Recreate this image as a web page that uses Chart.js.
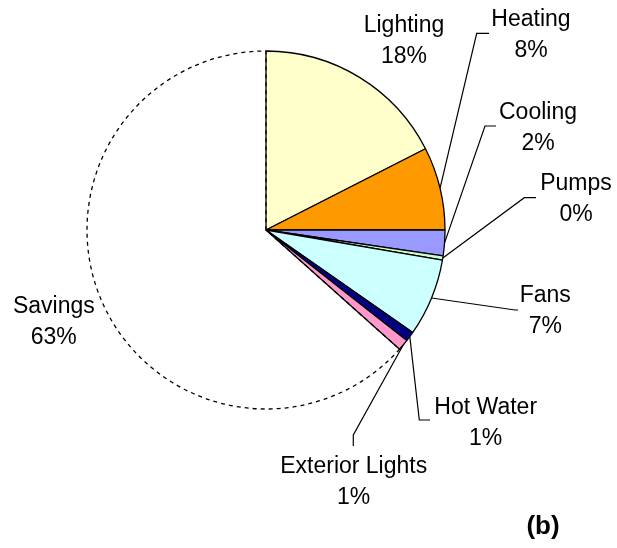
<!DOCTYPE html>
<html>
<head>
<meta charset="utf-8">
<title>End use breakdown</title>
<script src="https://cdn.jsdelivr.net/npm/chart.js@4.4.1/dist/chart.umd.min.js"></script>
<style>
  html, body { margin: 0; padding: 0; background: #fff; }
  #pie { display: block; }
</style>
</head>
<body>
<canvas id="pie" width="617" height="548"></canvas>
<script>
// end uses, clockwise from 12 o'clock, as percent of the baseline energy use
const categories = ["Lighting", "Heating", "Cooling", "Pumps", "Fans", "Hot Water", "Exterior Lights", "Savings"];
const shares = [17.5, 7.5, 2.3, 0.4, 7.0, 0.9, 1.0, 63.4];
const sliceColors = ["#ffffcc", "#ff9900", "#9999ff", "#ccffcc", "#ccffff", "#000080", "#ff99cc", "rgba(255,255,255,0)"];

const SAVINGS = categories.indexOf("Savings");
const FONT = "'Liberation Sans', Arial, Helvetica, sans-serif";
const LINE_GAP = 31;

// label block position (centre x, first baseline y) and leader bend:
// leader = [elbowX, elbowY, endX, endY], drawn out from the slice edge
const labelPlacement = {
  "Lighting":        { x: 404, y: 31.7 },
  "Heating":         { x: 531, y: 26, leader: [476.7, 33.3, 489, 33.3] },
  "Cooling":         { x: 538, y: 119, leader: [485, 126, 496, 126] },
  "Pumps":           { x: 576, y: 190, leader: [524.3, 197.7, 536, 197.7] },
  "Fans":            { x: 545.3, y: 301.7, leader: [515, 310, 518, 310] },
  "Hot Water":       { x: 485.7, y: 414, leader: [419.3, 420, 430, 420] },
  "Exterior Lights": { x: 353.7, y: 473.3, leader: [353.3, 435, 353.3, 446] },
  "Savings":         { x: 53.8, y: 313.3 }
};

const sliceLabels = {
  id: "sliceLabels",
  afterDraw(chart) {
    const ctx = chart.ctx;
    const meta = chart.getDatasetMeta(0);
    const values = chart.data.datasets[0].data;

    ctx.save();
    ctx.strokeStyle = "#000";
    ctx.lineWidth = 1.2;
    ctx.fillStyle = "#000";
    ctx.font = "23px " + FONT;
    ctx.textAlign = "center";
    ctx.textBaseline = "alphabetic";

    meta.data.forEach((arc, i) => {
      const name = chart.data.labels[i];
      const place = labelPlacement[name];
      if (!place) return;

      if (place.leader) {
        const { x, y, startAngle, endAngle, outerRadius } =
          arc.getProps(["x", "y", "startAngle", "endAngle", "outerRadius"], true);
        const mid = (startAngle + endAngle) / 2;
        const [ex, ey, tx, ty] = place.leader;
        ctx.beginPath();
        ctx.moveTo(x + Math.cos(mid) * outerRadius, y + Math.sin(mid) * outerRadius);
        ctx.lineTo(ex, ey);
        ctx.lineTo(tx, ty);
        ctx.stroke();
      }

      ctx.fillText(name, place.x, place.y);
      ctx.fillText(Math.round(values[i]) + "%", place.x, place.y + LINE_GAP);
    });

    // panel tag
    ctx.font = "bold 26px " + FONT;
    ctx.fillText("(b)", 543, 534);
    ctx.restore();
  }
};

new Chart(document.getElementById("pie"), {
  type: "pie",
  data: {
    labels: categories,
    datasets: [{
      data: shares,
      backgroundColor: sliceColors,
      borderColor: "#000",
      borderWidth: categories.map((c, i) => (i === SAVINGS ? 1.3 : 1.3)),
      borderDash: (c) => (c.dataIndex === SAVINGS ? [4, 4] : [])
    }]
  },
  options: {
    responsive: false,
    animation: false,
    radius: 179,
    layout: { padding: { left: 40, right: 125, top: 40, bottom: 128 } },
    plugins: {
      legend: { display: false },
      tooltip: { enabled: false }
    }
  },
  plugins: [sliceLabels]
});
</script>
</body>
</html>
